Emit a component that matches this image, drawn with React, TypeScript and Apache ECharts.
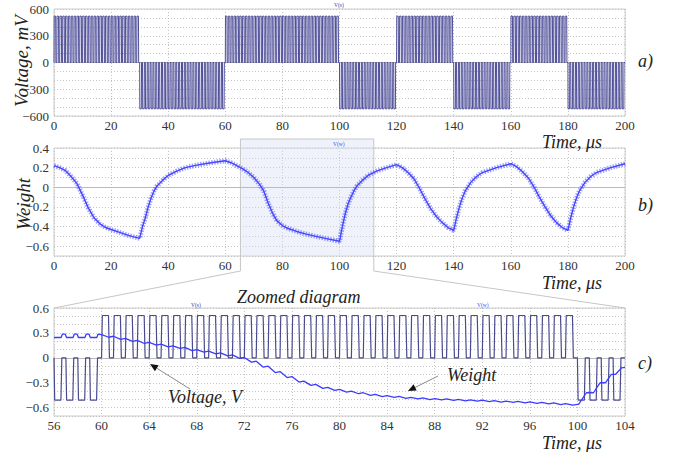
import React, { useEffect, useRef } from "react";
import * as echarts from "echarts";

// ---- panel a) voltage: polarity of the 1-µs pulse train in each interval (µs)
const voltSegStart = [0, 30, 60, 100, 120, 140, 160, 180];
const voltSegEnd = [30, 60, 100, 120, 140, 160, 180, 200];
const voltSegSign = [1, -1, 1, -1, 1, -1, 1, -1];
const voltAmpMV = 520;

// ---- panel c) zoomed voltage
const zoomSegStart = [56, 60, 100];
const zoomSegEnd = [60, 100, 104];
const zoomSegSign = [-1, 1, -1];
const zoomAmpV = 0.51;

// shape of one pulse within its 1-µs period (phase, fraction of amplitude)
const pulsePhase = [0, 0.06, 0.58, 0.66];
const pulseLevel = [0, 1, 1, 0];

// ---- panel b) weight (t µs, weight)
const weightPairs: number[][] = [
  [0, 0.22], [2, 0.2], [4, 0.17], [6, 0.11], [8, 0.04], [10, -0.08], [12, -0.21], [14, -0.31],
  [16, -0.37], [18, -0.41], [20, -0.43], [23, -0.46], [26, -0.49], [30, -0.52],
  [31, -0.4], [32, -0.31], [33, -0.2], [34, -0.11], [35, -0.04], [36, 0.01], [38, 0.07], [40, 0.12],
  [43, 0.165], [46, 0.2], [50, 0.225], [55, 0.25], [60, 0.27],
  [62, 0.25], [64, 0.22], [66, 0.19], [68, 0.15], [70, 0.1], [72, 0.03], [73.5, -0.04], [75, -0.16],
  [76.5, -0.26], [78, -0.34], [80, -0.39], [82, -0.42], [85, -0.45], [88, -0.475], [91, -0.495],
  [95, -0.52], [100, -0.55],
  [101, -0.4], [102, -0.27], [103, -0.17], [104, -0.1], [105, -0.04], [106, 0.01], [108, 0.07],
  [110, 0.12], [113, 0.165], [116, 0.195], [120, 0.23],
  [122, 0.2], [124, 0.15], [126, 0.09], [128, -0.01], [130, -0.12], [132, -0.22], [134, -0.3],
  [136, -0.36], [138, -0.41], [140, -0.44],
  [141, -0.31], [142, -0.2], [143, -0.11], [144, -0.04], [146, 0.05], [148, 0.11], [150, 0.15],
  [155, 0.2], [160, 0.24],
  [162, 0.21], [164, 0.16], [166, 0.1], [168, 0.01], [170, -0.1], [172, -0.2], [174, -0.29],
  [176, -0.36], [178, -0.41], [180, -0.44],
  [181, -0.31], [182, -0.2], [183, -0.11], [184, -0.04], [186, 0.05], [188, 0.11], [190, 0.15],
  [195, 0.2], [200, 0.24],
];

// ---- panel c) zoomed weight (t µs, weight), with its 1-µs ripple
const zoomWeightPairs: number[][] = [
  [56, 0.245], [56.6, 0.245], [56.7, 0.285], [56.95, 0.285], [57.05, 0.245], [57.6, 0.245],
  [57.7, 0.285], [57.95, 0.285], [58.05, 0.245], [58.6, 0.245], [58.7, 0.285], [58.95, 0.285],
  [59.05, 0.245], [59.6, 0.245], [59.7, 0.285], [60, 0.28],
  [60.6, 0.248], [61, 0.26], [61.6, 0.223], [62, 0.235], [62.6, 0.198], [63, 0.21], [63.6, 0.173],
  [64, 0.185], [64.6, 0.153], [65, 0.165], [65.6, 0.133], [66, 0.145], [66.6, 0.113], [67, 0.125],
  [67.6, 0.088], [68, 0.1], [68.6, 0.068], [69, 0.08], [69.6, 0.048], [70, 0.06], [70.6, 0.023],
  [71, 0.035], [71.6, -0.007], [72, 0.005], [72.6, -0.052], [73, -0.04], [73.6, -0.112], [74, -0.1],
  [74.6, -0.177], [75, -0.165], [75.6, -0.237], [76, -0.225], [76.6, -0.292], [77, -0.28],
  [77.6, -0.332], [78, -0.32], [78.6, -0.367], [79, -0.355], [79.6, -0.392], [80, -0.38],
  [80.6, -0.412], [81, -0.4], [81.6, -0.432], [82, -0.42], [82.6, -0.452], [83, -0.44],
  [83.6, -0.467], [84, -0.455], [84.6, -0.477], [85, -0.465], [85.6, -0.487], [86, -0.475],
  [86.6, -0.495], [87, -0.483], [87.6, -0.502], [88, -0.49], [88.6, -0.507], [89, -0.495],
  [89.6, -0.512], [90, -0.5], [90.6, -0.517], [91, -0.505], [91.6, -0.522], [92, -0.51],
  [92.6, -0.527], [93, -0.515], [93.6, -0.532], [94, -0.52], [94.6, -0.537], [95, -0.525],
  [95.6, -0.542], [96, -0.53], [96.6, -0.549], [97, -0.537], [97.6, -0.555], [98, -0.543],
  [98.6, -0.562], [99, -0.55], [99.6, -0.57], [100, -0.56],
  [100.1, -0.56], [100.75, -0.42], [101.35, -0.42], [101.9, -0.3], [102.35, -0.3], [102.85, -0.2],
  [103.2, -0.2], [103.7, -0.12], [104, -0.115],
];

// zoom window marked on panel b (µs)
const zoomWindow = [65.3, 112];

const SERIF = "Liberation Serif";
const minus = (s: string) => s.replace("-", "\u2212");

function pulseTrain(starts: number[], ends: number[], signs: number[], amp: number) {
  const pts: number[][] = [];
  for (let s = 0; s < starts.length; s++) {
    for (let t = starts[s]; t < ends[s]; t += 1) {
      for (let k = 0; k < pulsePhase.length; k++) {
        pts.push([t + pulsePhase[k], signs[s] * amp * pulseLevel[k]]);
      }
    }
  }
  pts.push([ends[ends.length - 1], 0]);
  return pts;
}

const gridStyle = { show: true, borderColor: "#cccccc", borderWidth: 1, backgroundColor: "transparent" };
const dotted = { color: "#c4c4c4", type: [1, 2] as any, width: 1 };

function xAxis(i: number, min: number, max: number, interval: number) {
  return {
    type: "value", gridIndex: i, min, max, interval,
    axisLine: { show: true, lineStyle: { color: "#bbbbbb" } },
    axisTick: { show: false },
    axisLabel: { color: "#333", fontFamily: SERIF, fontSize: 13, margin: 3 },
    splitLine: { show: true, lineStyle: dotted },
  };
}
function yAxis(i: number, min: number, max: number, interval: number, fmt: (v: number) => string) {
  return {
    type: "value", gridIndex: i, min, max, interval,
    axisLine: { show: false }, axisTick: { show: false },
    axisLabel: { color: "#333", fontFamily: SERIF, fontSize: 13, margin: 5, formatter: fmt },
    splitLine: { show: true, lineStyle: dotted },
  };
}

// text anchored at its top-left corner
function italic(text: string, x: number, y: number, size: number, rotation = 0) {
  return {
    type: "text", x, y, rotation,
    style: { text, fontFamily: SERIF, fontStyle: "italic", fontSize: size, fill: "#222" },
  };
}
function tiny(text: string, x: number, y: number, color: string) {
  return {
    type: "text", x, y,
    style: { text, fontFamily: SERIF, fontSize: 5.5, fill: color },
  };
}
function arrow(x1: number, y1: number, x2: number, y2: number) {
  const dx = x2 - x1, dy = y2 - y1;
  const L = Math.sqrt(dx * dx + dy * dy);
  const ux = dx / L, uy = dy / L;
  const bx = x2 - ux * 8, by = y2 - uy * 8;
  return [
    { type: "line", shape: { x1, y1, x2: bx, y2: by }, style: { stroke: "#8a8a8a", lineWidth: 1 } },
    {
      type: "polygon",
      shape: { points: [[x2, y2], [bx - uy * 3.5, by + ux * 3.5], [bx + uy * 3.5, by - ux * 3.5]] },
      style: { fill: "#111" },
    },
  ];
}

const forceSerifCss = `#root svg text, #root svg tspan { font-family: "Liberation Serif" !important; }`;

export default function App() {
  const ref = useRef<HTMLDivElement>(null);
  useEffect(() => {
    document.body.style.margin = "0";
    const chart = echarts.init(ref.current!, undefined, { renderer: "svg" });
    const option: any = {
      animation: false,
      textStyle: { fontFamily: SERIF },
      grid: [
        { left: 54, top: 9, width: 571, height: 107, ...gridStyle },
        { left: 54, top: 148, width: 571, height: 108, ...gridStyle },
        { left: 54, top: 308, width: 571, height: 108, ...gridStyle },
      ],
      xAxis: [xAxis(0, 0, 200, 20), xAxis(1, 0, 200, 20), xAxis(2, 56, 104, 4)],
      yAxis: [
        yAxis(0, -600, 600, 100, (v) => (Math.round(v) % 300 === 0 ? minus(String(Math.round(v))) : "")),
        yAxis(1, -0.7, 0.4, 0.1, (v) => {
          const k = Math.round(v * 10);
          return k % 2 === 0 ? minus(String(k / 10)) : "";
        }),
        yAxis(2, -0.7, 0.6, 0.1, (v) => {
          const k = Math.round(v * 10);
          return k % 3 === 0 ? minus(String(k / 10)) : "";
        }),
      ],
      series: [
        {
          type: "line", xAxisIndex: 0, yAxisIndex: 0, symbol: "none", silent: true,
          data: pulseTrain(voltSegStart, voltSegEnd, voltSegSign, voltAmpMV),
          lineStyle: { color: "#3c3c8e", width: 0.9 },
        },
        {
          type: "line", xAxisIndex: 1, yAxisIndex: 1, symbol: "none", silent: true, data: weightPairs,
          lineStyle: { color: "rgba(80,80,255,0.55)", width: 5, type: [1.4, 1.4] },
        },
        {
          type: "line", xAxisIndex: 1, yAxisIndex: 1, symbol: "none", silent: true, data: weightPairs,
          lineStyle: { color: "#4545ff", width: 1.4 },
        },
        {
          type: "line", xAxisIndex: 2, yAxisIndex: 2, symbol: "none", silent: true,
          data: pulseTrain(zoomSegStart, zoomSegEnd, zoomSegSign, zoomAmpV),
          lineStyle: { color: "#4a4a8e", width: 1.2 },
        },
        {
          type: "line", xAxisIndex: 2, yAxisIndex: 2, symbol: "none", silent: true, data: zoomWeightPairs,
          lineStyle: { color: "#3c3cff", width: 1.3 },
        },
      ],
    };
    chart.setOption(option);

    const bx0 = chart.convertToPixel({ xAxisIndex: 1 }, zoomWindow[0]) as number;
    const bx1 = chart.convertToPixel({ xAxisIndex: 1 }, zoomWindow[1]) as number;
    const bBottom = chart.convertToPixel({ yAxisIndex: 1 }, -0.7) as number;
    const cx0 = chart.convertToPixel({ xAxisIndex: 2 }, 56) as number;
    const cx1 = chart.convertToPixel({ xAxisIndex: 2 }, 104) as number;
    const cTop = chart.convertToPixel({ yAxisIndex: 2 }, 0.6) as number;
    const boxTop = 139;
    const boxBottom = bBottom + 15;

    chart.setOption({
      graphic: [
        {
          type: "rect", silent: true,
          shape: { x: bx0, y: boxTop, width: bx1 - bx0, height: bBottom - boxTop },
          style: { fill: "rgba(214,222,242,0.4)" },
        },
        {
          type: "polyline", silent: true,
          shape: { points: [[bx0, boxBottom], [bx0, boxTop], [bx1, boxTop], [bx1, boxBottom]] },
          style: { stroke: "#c6c6c6", lineWidth: 1, fill: null },
        },
        { type: "line", silent: true, shape: { x1: bx0, y1: boxBottom, x2: cx0, y2: cTop }, style: { stroke: "#c6c6c6", lineWidth: 1 } },
        { type: "line", silent: true, shape: { x1: bx1, y1: boxBottom, x2: cx1, y2: cTop }, style: { stroke: "#c6c6c6", lineWidth: 1 } },
        italic("Voltage, mV", 11.5, 107, 19, Math.PI / 2),
        italic("Weight", 13.5, 230, 19, Math.PI / 2),
        italic("Time, \u03bcs", 542, 133, 18),
        italic("Time, \u03bcs", 542, 274, 18),
        italic("Time, \u03bcs", 542, 434, 18),
        italic("a)", 638, 52, 18),
        italic("b)", 638, 196, 18),
        italic("c)", 638, 354, 18),
        italic("Zoomed diagram", 237, 288, 18),
        italic("Voltage, V", 168, 388, 18),
        italic("Weight", 447, 366, 18),
        ...arrow(190, 389, 150, 364),
        ...arrow(438, 376, 408, 391),
        tiny("V(s)", 334, 2, "#3a3a9a"),
        tiny("V(w)", 333, 141, "#4848ff"),
        tiny("V(s)", 191, 302, "#3a3a9a"),
        tiny("V(w)", 477, 302, "#4848ff"),
      ],
    });
    return () => chart.dispose();
  }, []);
  return (
    <>
      <style>{forceSerifCss}</style>
      <div ref={ref} style={{ width: 678, height: 452 }} />
    </>
  );
}
